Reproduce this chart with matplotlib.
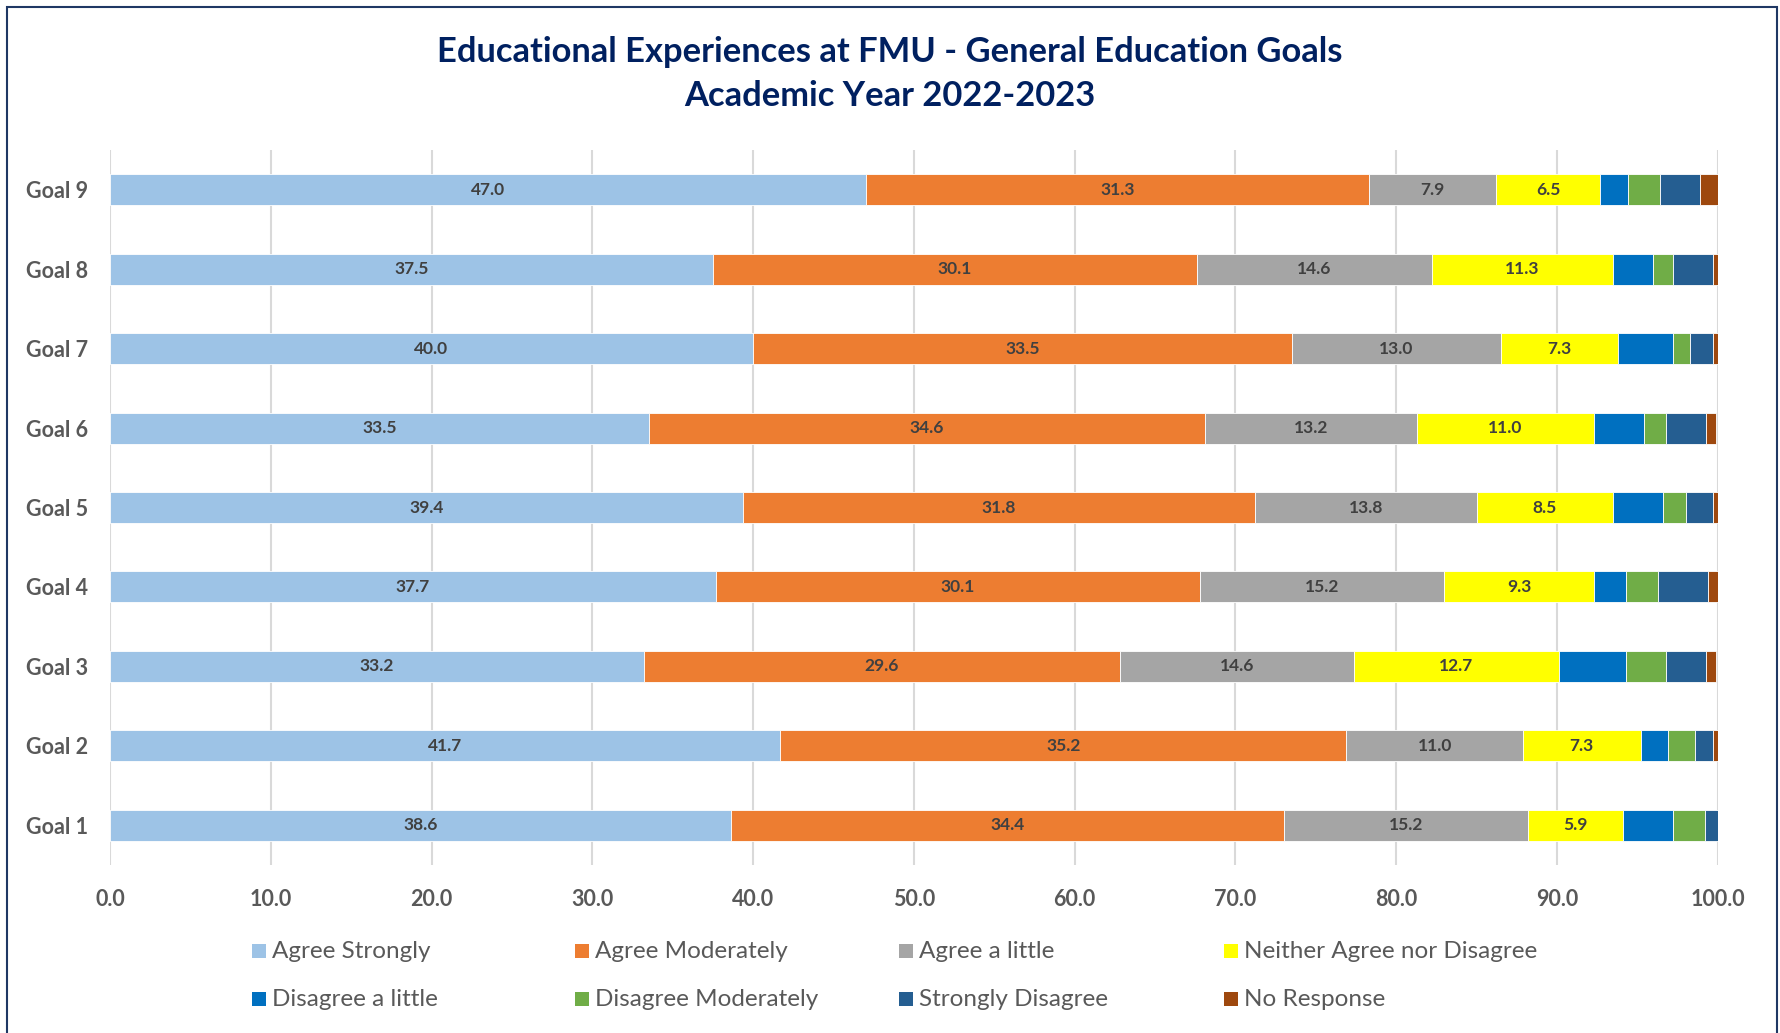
import matplotlib
matplotlib.use("Agg")
import matplotlib.pyplot as plt
from matplotlib.patches import Rectangle
import numpy as np

plt.rcParams['font.family'] = ['Lato', 'DejaVu Sans']

goals = ["Goal 1", "Goal 2", "Goal 3", "Goal 4", "Goal 5", "Goal 6", "Goal 7", "Goal 8", "Goal 9"]
series_names = ["Agree Strongly", "Agree Moderately", "Agree a little", "Neither Agree nor Disagree",
                "Disagree a little", "Disagree Moderately", "Strongly Disagree", "No Response"]
agree_strongly = [38.6, 41.7, 33.2, 37.7, 39.4, 33.5, 40.0, 37.5, 47.0]
agree_moderately = [34.4, 35.2, 29.6, 30.1, 31.8, 34.6, 33.5, 30.1, 31.3]
agree_little = [15.2, 11.0, 14.6, 15.2, 13.8, 13.2, 13.0, 14.6, 7.9]
neither = [5.9, 7.3, 12.7, 9.3, 8.5, 11.0, 7.3, 11.3, 6.5]
disagree_little = [3.1, 1.7, 4.2, 2.0, 3.1, 3.1, 3.4, 2.5, 1.7]
disagree_moderately = [2.0, 1.7, 2.5, 2.0, 1.4, 1.4, 1.1, 1.2, 2.0]
strongly_disagree = [0.8, 1.1, 2.5, 3.1, 1.7, 2.5, 1.4, 2.5, 2.5]
no_response = [0.0, 0.3, 0.6, 0.6, 0.3, 0.6, 0.3, 0.3, 1.1]
x_ticks = [0, 10, 20, 30, 40, 50, 60, 70, 80, 90, 100]

series = [agree_strongly, agree_moderately, agree_little, neither,
          disagree_little, disagree_moderately, strongly_disagree, no_response]
colors = ["#9DC3E6", "#ED7D31", "#A5A5A5", "#FFFF00", "#0070C0", "#70AD47", "#255E91", "#9E480E"]
labeled = [True, True, True, True, False, False, False, False]

fig = plt.figure(figsize=(17.8, 10.33), dpi=100)
ax = fig.add_axes([0.0618, 0.1626, 0.9032, 0.6922])

y = np.arange(1, len(goals) + 1)
left = np.zeros(len(goals))
for vals, col, name, lab in zip(series, colors, series_names, labeled):
    vals = np.array(vals)
    bars = ax.barh(y, vals, left=left, height=0.39, color=col, edgecolor="white",
                   linewidth=0.6, label=name, zorder=3)
    if lab:
        ax.bar_label(bars, labels=[f"{v:.1f}" for v in vals], label_type="center",
                     fontsize=12.5, fontweight="bold", color="#404040")
    left += vals

ax.set_xlim(0, 100)
ax.set_ylim(0.5, len(goals) + 0.5)
ax.set_xticks(x_ticks)
ax.set_xticklabels([f"{t:.1f}" for t in x_ticks])
ax.set_yticks(y)
ax.set_yticklabels(goals)
ax.tick_params(axis="both", length=0, labelsize=15.5, labelcolor="#595959")
ax.tick_params(axis="x", pad=17)
ax.tick_params(axis="y", pad=16)
for t in ax.get_xticklabels() + ax.get_yticklabels():
    t.set_fontweight("bold")
for s in ax.spines.values():
    s.set_visible(False)
ax.grid(axis="x", color="#D9D9D9", linewidth=1.5, zorder=0)
ax.set_axisbelow(True)

fig.text(0.5, 0.950, "Educational Experiences at FMU - General Education Goals",
         ha="center", va="center", fontsize=24.8, fontweight="bold", color="#002060")
fig.text(0.5, 0.907, "Academic Year 2022-2023",
         ha="center", va="center", fontsize=24.8, fontweight="bold", color="#002060")

# legend (manual grid, 4 columns x 2 rows)
W, H = 1780.0, 1033.0
col_x = [252, 575, 899, 1224]
row_y = [951, 999]
for i, (name, col) in enumerate(zip(series_names, colors)):
    cx = col_x[i % 4]
    cy = row_y[i // 4]
    fig.patches.append(Rectangle((cx / W, (H - cy - 7) / H), 14 / W, 14 / H,
                                 transform=fig.transFigure, facecolor=col, edgecolor="none"))
    fig.text((cx + 20) / W, (H - cy) / H, name, ha="left", va="center",
             fontsize=17.5, color="#595959")

fig.patches.append(Rectangle((7 / W, -0.05), (1770) / W, (H - 7) / H + 0.05,
                             transform=fig.transFigure, facecolor="none",
                             edgecolor="#1F3864", linewidth=1.5))

fig.savefig("out.png", dpi=100, facecolor="white")
